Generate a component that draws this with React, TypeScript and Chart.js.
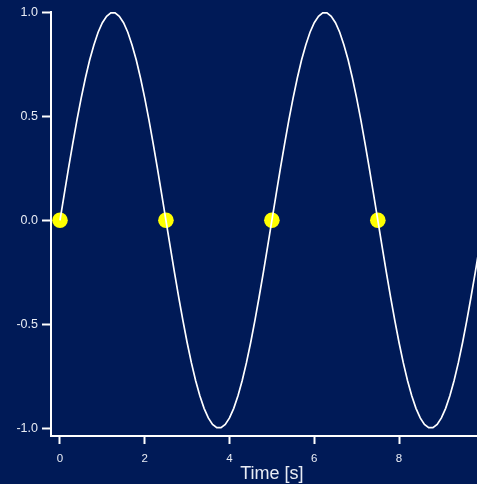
import { useEffect, useRef } from "react";
import { Chart, registerables } from "chart.js";

Chart.register(...registerables);

// Sampled signal: time in seconds and amplitude
const TIME = [
  0.0, 0.1, 0.2, 0.3, 0.4, 0.5, 0.6, 0.7, 0.8, 0.9,
  1.0, 1.1, 1.2, 1.3, 1.4, 1.5, 1.6, 1.7, 1.8, 1.9,
  2.0, 2.1, 2.2, 2.3, 2.4, 2.5, 2.6, 2.7, 2.8, 2.9,
  3.0, 3.1, 3.2, 3.3, 3.4, 3.5, 3.6, 3.7, 3.8, 3.9,
  4.0, 4.1, 4.2, 4.3, 4.4, 4.5, 4.6, 4.7, 4.8, 4.9,
  5.0, 5.1, 5.2, 5.3, 5.4, 5.5, 5.6, 5.7, 5.8, 5.9,
  6.0, 6.1, 6.2, 6.3, 6.4, 6.5, 6.6, 6.7, 6.8, 6.9,
  7.0, 7.1, 7.2, 7.3, 7.4, 7.5, 7.6, 7.7, 7.8, 7.9,
  8.0, 8.1, 8.2, 8.3, 8.4, 8.5, 8.6, 8.7, 8.8, 8.9,
  9.0, 9.1, 9.2, 9.3, 9.4, 9.5, 9.6, 9.7, 9.8, 9.9,
  10.0,
];

const SIGNAL = [
  0.0, 0.125, 0.249, 0.368, 0.482, 0.588, 0.685, 0.771, 0.844, 0.905,
  0.951, 0.982, 0.998, 0.998, 0.982, 0.951, 0.905, 0.844, 0.771, 0.685,
  0.588, 0.482, 0.368, 0.249, 0.125, 0.0, -0.125, -0.249, -0.368, -0.482,
  -0.588, -0.685, -0.771, -0.844, -0.905, -0.951, -0.982, -0.998, -0.998, -0.982,
  -0.951, -0.905, -0.844, -0.771, -0.685, -0.588, -0.482, -0.368, -0.249, -0.125,
  0.0, 0.125, 0.249, 0.368, 0.482, 0.588, 0.685, 0.771, 0.844, 0.905,
  0.951, 0.982, 0.998, 0.998, 0.982, 0.951, 0.905, 0.844, 0.771, 0.685,
  0.588, 0.482, 0.368, 0.249, 0.125, 0.0, -0.125, -0.249, -0.368, -0.482,
  -0.588, -0.685, -0.771, -0.844, -0.905, -0.951, -0.982, -0.998, -0.998, -0.982,
  -0.951, -0.905, -0.844, -0.771, -0.685, -0.588, -0.482, -0.368, -0.249, -0.125,
  0.0,
];

// Zero crossings
const CROSS_TIME = [0, 2.5, 5, 7.5];
const CROSS_VALUE = [0, 0, 0, 0];

const X_TICKS = [0, 2, 4, 6, 8];
const Y_TICKS = [-1, -0.5, 0, 0.5, 1];
const X_TITLE = "Time [s]";

const BG = "#001a57";
const TEXT = "#e8ecf4";
const FONT = "'Liberation Sans', Arial, sans-serif";

const xTitlePlugin = {
  id: "xTitle",
  afterDraw(chart: any) {
    const { ctx, scales } = chart;
    const x = scales.x.getPixelForValue(5);
    ctx.save();
    ctx.fillStyle = TEXT;
    ctx.font = `18px ${FONT}`;
    ctx.textAlign = "center";
    ctx.textBaseline = "middle";
    ctx.fillText(X_TITLE, x, 474.5);
    ctx.restore();
  },
};

export default function App() {
  const canvasRef = useRef<HTMLCanvasElement | null>(null);

  useEffect(() => {
    document.body.style.margin = "0";
    document.body.style.background = BG;
    const canvas = canvasRef.current;
    if (!canvas) return;

    const chart = new Chart(canvas, {
      type: "line",
      data: {
        datasets: [
          {
            type: "line",
            data: TIME.map((t, i) => ({ x: t, y: SIGNAL[i] })),
            borderColor: "#ffffff",
            borderWidth: 1.7,
            pointRadius: 0,
            tension: 0,
            order: 0,
          },
          {
            type: "scatter",
            data: CROSS_TIME.map((t, i) => ({ x: t, y: CROSS_VALUE[i] })),
            backgroundColor: "#ffff00",
            borderColor: "#ffff00",
            borderWidth: 0,
            pointRadius: 7.8,
            order: 1,
          },
        ],
      },
      options: {
        animation: false,
        responsive: false,
        layout: { autoPadding: false, padding: { top: 10, right: 0, left: 0, bottom: 0 } },
        plugins: {
          legend: { display: false },
          tooltip: { enabled: false },
        },
        scales: {
          x: {
            type: "linear",
            min: -0.212,
            max: 9.84,
            afterBuildTicks: (scale: any) => {
              scale.ticks = X_TICKS.map((v) => ({ value: v }));
            },
            afterFit: (scale: any) => {
              scale.height = 48;
            },
            grid: {
              drawOnChartArea: false,
              drawTicks: true,
              tickLength: 8,
              tickColor: "#ffffff",
              tickWidth: 2,
            },
            border: { display: true, color: "#ffffff", width: 2 },
            ticks: {
              color: TEXT,
              padding: 8,
              maxRotation: 0,
              font: { family: FONT, size: 11.5 },
              callback: (v: any) => String(v),
            },
          },
          y: {
            type: "linear",
            min: -1.038,
            max: 1.0048,
            afterBuildTicks: (scale: any) => {
              scale.ticks = Y_TICKS.map((v) => ({ value: v }));
            },
            afterFit: (scale: any) => {
              scale.width = 51;
            },
            grid: {
              drawOnChartArea: false,
              drawTicks: true,
              tickLength: 9,
              tickColor: "#ffffff",
              tickWidth: 2,
            },
            border: { display: true, color: "#ffffff", width: 2 },
            ticks: {
              color: TEXT,
              padding: 4,
              font: { family: FONT, size: 12.5 },
              callback: (v: any) => Number(v).toFixed(1),
            },
          },
        },
      },
      plugins: [xTitlePlugin],
    });

    return () => chart.destroy();
  }, []);

  return (
    <div style={{ width: 477, height: 484, background: BG, overflow: "hidden" }}>
      <canvas ref={canvasRef} width={477} height={484} style={{ display: "block" }} />
    </div>
  );
}
